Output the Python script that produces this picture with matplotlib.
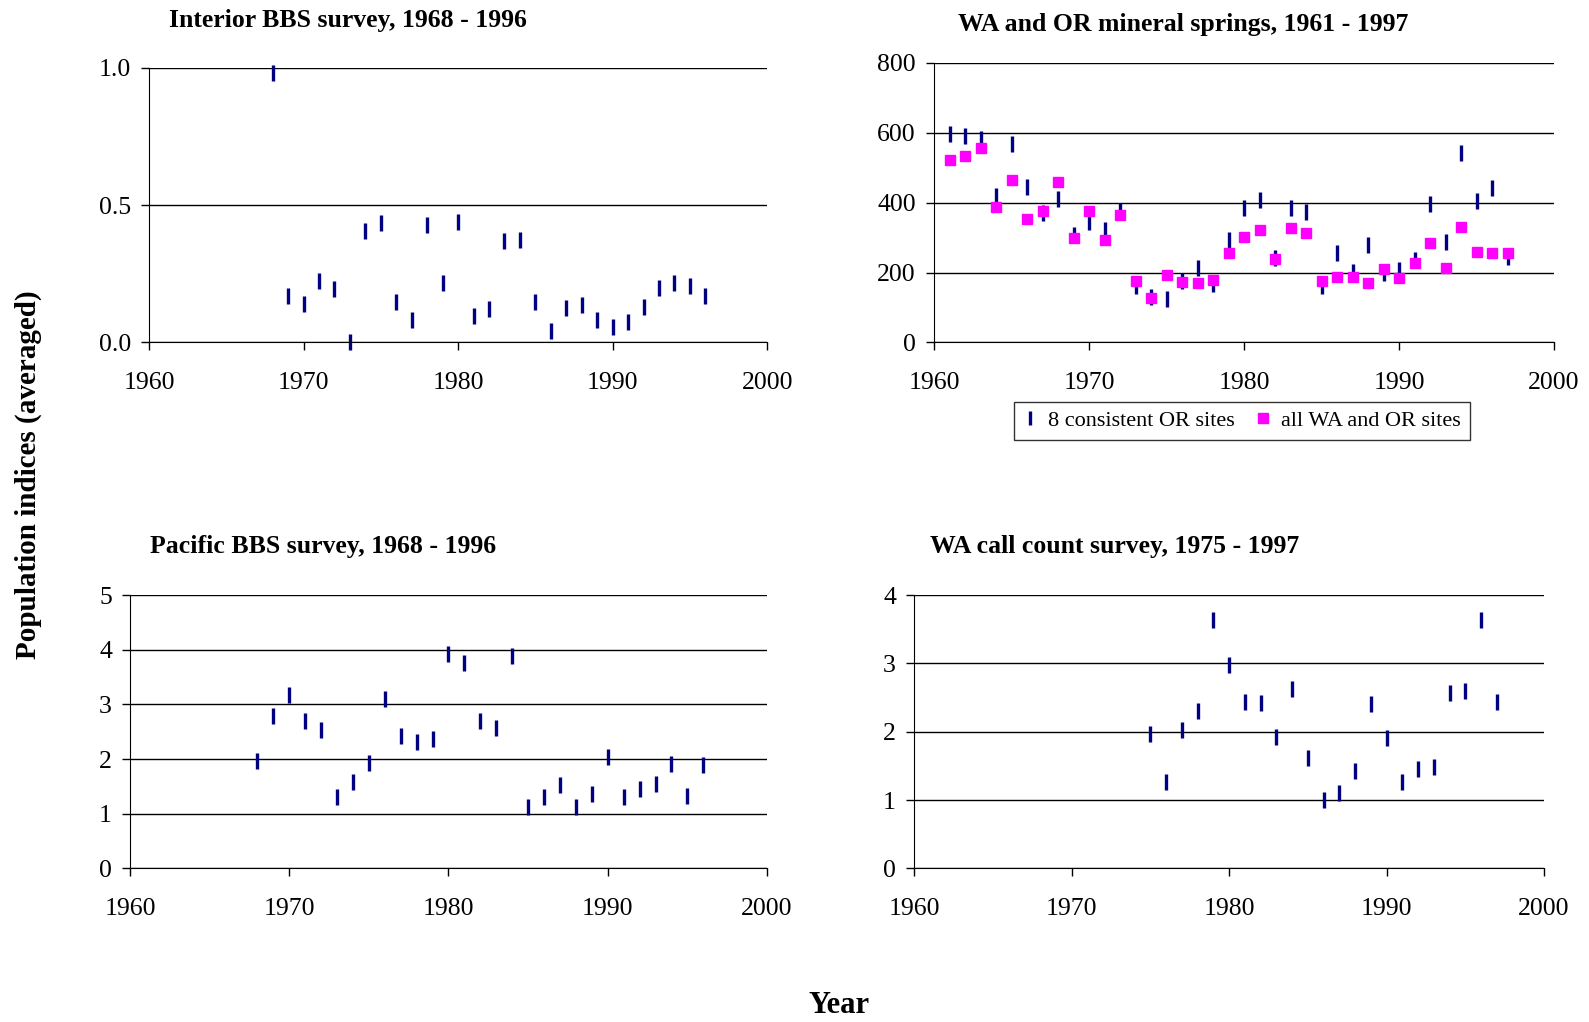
import matplotlib
matplotlib.use("Agg")
import matplotlib.pyplot as plt

plt.rcParams['font.family'] = ['Liberation Serif', 'DejaVu Serif']

# Interior BBS survey, 1968 - 1996
interior_years = list(range(1968, 1997))
interior_vals = [0.98, 0.17, 0.14, 0.225, 0.195, 0.0, 0.407, 0.434, 0.148, 0.083,
                 0.428, 0.217, 0.438, 0.097, 0.123, 0.369, 0.374, 0.146, 0.042, 0.126,
                 0.135, 0.081, 0.058, 0.075, 0.131, 0.198, 0.217, 0.206, 0.17]

# WA and OR mineral springs, 1961 - 1997
springs_years = list(range(1961, 1998))
or_sites = [598, 592, 581, 420, 569, 445, 370, 410, 307, 345,
            323, 376, 161, 131, 123, 176, 214, 166, 294, 386,
            409, 242, 386, 374, 161, 255, 201, 280, 200, 207,
            237, 397, 287, 543, 406, 443, 245]
all_sites = [522, 534, 558, 388, 466, 354, 377, 459, 300, 375,
             294, 365, 175, 128, 193, 173, 170, 180, 256, 302,
             323, 240, 329, 312, 175, 187, 188, 170, 211, 184,
             228, 284, 213, 331, 259, 255, 255]

# Pacific BBS survey, 1968 - 1996
pacific_years = list(range(1968, 1997))
pacific_vals = [1.96, 2.79, 3.18, 2.69, 2.53, 1.30, 1.59, 1.93, 3.09, 2.43,
                2.31, 2.36, 3.92, 3.75, 2.69, 2.56, 3.89, 1.12, 1.31, 1.53,
                1.13, 1.37, 2.04, 1.31, 1.46, 1.54, 1.91, 1.32, 1.90]

# WA call count survey, 1975 - 1997
callcount_years = list(range(1975, 1998))
callcount_vals = [1.97, 1.26, 2.02, 2.30, 3.64, 2.97, 2.43, 2.42, 1.92, 2.62,
                  1.61, 1.00, 1.10, 1.42, 2.41, 1.91, 1.27, 1.45, 1.48, 2.56,
                  2.60, 3.63, 2.43]

navy = '#000080'
pink = '#FF00FF'
tick_fs = 18.5
title_fs = 18.5


def style_axes(ax, yticks, ylabels):
    ax.set_xlim(1960, 2000)
    ax.set_xticks([1960, 1970, 1980, 1990, 2000])
    ax.set_ylim(yticks[0], yticks[-1])
    ax.set_yticks(yticks)
    ax.set_yticklabels(ylabels)
    ax.tick_params(axis='both', labelsize=tick_fs, direction='out', length=6, width=1)
    ax.tick_params(axis='x', pad=15)
    ax.tick_params(axis='y', pad=7)
    ax.spines['top'].set_visible(False)
    ax.spines['right'].set_visible(False)
    ax.spines['left'].set_color('black')
    ax.spines['bottom'].set_color('black')
    ax.yaxis.grid(True, color='black', linewidth=1)
    ax.set_axisbelow(True)


def dashes(ax, x, y, label=None):
    ax.plot(x, y, linestyle='none', marker='|', markersize=11, markeredgewidth=2.4,
            color=navy, clip_on=False, label=label)


fig = plt.figure(figsize=(15.89, 10.22), dpi=100)

ax1 = fig.add_axes([0.0938, 0.6649, 0.389, 0.2686])
dashes(ax1, interior_years, interior_vals)
style_axes(ax1, [0, 0.5, 1.0], ['0.0', '0.5', '1.0'])

ax2 = fig.add_axes([0.5878, 0.6649, 0.3902, 0.2735])
dashes(ax2, springs_years, or_sites, label='8 consistent OR sites')
ax2.plot(springs_years, all_sites, linestyle='none', marker='s', markersize=7.5,
         color=pink, clip_on=False, label='all WA and OR sites')
style_axes(ax2, [0, 200, 400, 600, 800], ['0', '200', '400', '600', '800'])

ax3 = fig.add_axes([0.0818, 0.1502, 0.4009, 0.2676])
dashes(ax3, pacific_years, pacific_vals)
style_axes(ax3, [0, 1, 2, 3, 4, 5], ['0', '1', '2', '3', '4', '5'])

ax4 = fig.add_axes([0.5752, 0.1502, 0.3965, 0.2676])
dashes(ax4, callcount_years, callcount_vals)
style_axes(ax4, [0, 1, 2, 3, 4], ['0', '1', '2', '3', '4'])

# panel titles
fig.text(169 / 1589, 1 - 20 / 1022, 'Interior BBS survey, 1968 - 1996',
         fontsize=title_fs, fontweight='bold', ha='left', va='center')
fig.text(958 / 1589, 1 - 24 / 1022, 'WA and OR mineral springs, 1961 - 1997',
         fontsize=title_fs, fontweight='bold', ha='left', va='center')
fig.text(150 / 1589, 1 - 547 / 1022, 'Pacific BBS survey, 1968 - 1996',
         fontsize=title_fs, fontweight='bold', ha='left', va='center')
fig.text(930 / 1589, 1 - 547 / 1022, 'WA call count survey, 1975 - 1997',
         fontsize=title_fs, fontweight='bold', ha='left', va='center')

fig.text(28 / 1589, 1 - 475 / 1022, 'Population indices (averaged)', rotation=90,
         fontsize=21, fontweight='bold', ha='center', va='center')
fig.text(839 / 1589, 1 - 1005 / 1022, 'Year',
         fontsize=22, fontweight='bold', ha='center', va='center')

leg = fig.legend(handles=ax2.get_lines(), loc='center',
                 bbox_to_anchor=(1242 / 1589, 1 - 421 / 1022), ncol=2,
                 fontsize=16, frameon=True, fancybox=False, edgecolor='black',
                 handlelength=0.6, handletextpad=0.5, columnspacing=1.0,
                 borderpad=0.4, markerscale=0.9)
leg.get_frame().set_linewidth(1)

fig.savefig('out.png', dpi=100)
